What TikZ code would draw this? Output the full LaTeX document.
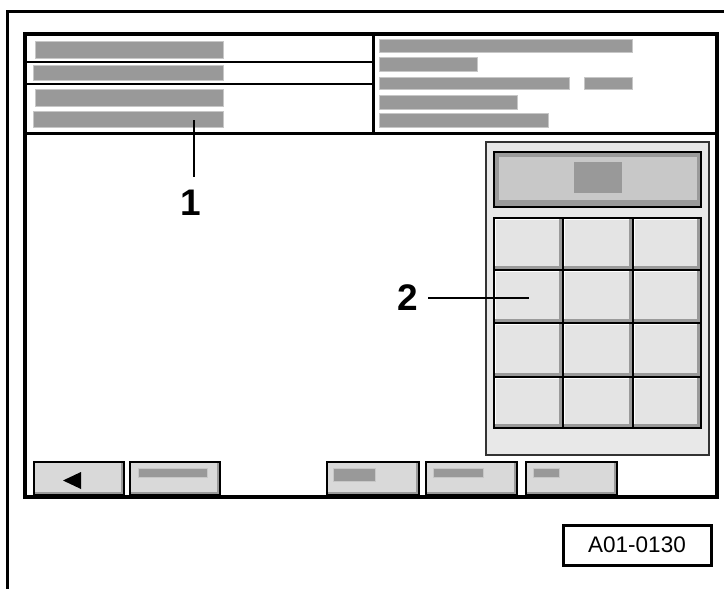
\documentclass[tikz,border=0pt]{standalone}
\usepackage{fontspec}
\setmainfont{Liberation Sans}
\definecolor{barc}{HTML}{999999}
\definecolor{keyc}{HTML}{E4E4E4}
\definecolor{panelc}{HTML}{E8E8E8}
\definecolor{dispc}{HTML}{C8C8C8}
\definecolor{btnc}{HTML}{D9D9D9}
\definecolor{shadc}{HTML}{9A9A9A}
\begin{document}
\begin{tikzpicture}[x=1pt,y=-1pt,line join=miter,
  frameline/.style={line width=3pt},
  scr/.style={draw=black,line width=3.4pt},
  hdrline/.style={line width=2pt},
  bar/.style={fill=barc,draw=barc!55!white,line width=0.6pt},
  btnbox/.style={fill=btnc,draw=black,line width=1.5pt},
  lbl/.style={font=\fontsize{37}{37}\selectfont\bfseries,inner sep=0pt},
  leader/.style={line width=1.2pt},
  codebox/.style={draw=black,line width=3pt,minimum width=148pt,minimum height=40pt,inner sep=0pt,font=\fontsize{22.5}{22.5}\selectfont}]
\useasboundingbox (0,0) rectangle (724,589);
% outer frame (top and left edges)
\draw[frameline] (7,589) -- (7,11) -- (724,11);
% header left bars
\draw[bar] (35,41) rectangle (223,58);
\draw[bar] (33,65) rectangle (223,80);
\draw[bar] (35,89) rectangle (223,106);
\draw[bar] (33,111) rectangle (223,127);
% header right bars
\draw[bar] (379,39) rectangle (632,52);
\draw[bar] (379,57) rectangle (477,71);
\draw[bar] (379,77) rectangle (569,89);
\draw[bar] (584,77) rectangle (632,89);
\draw[bar] (379,95) rectangle (517,109);
\draw[bar] (379,113) rectangle (548,127);
% header lines
\draw[hdrline] (25,62) -- (373,62);
\draw[hdrline] (25,84) -- (373,84);
\draw[line width=3pt] (373,34) -- (373,133);
\draw[line width=3pt] (25,133) -- (717,133);
% keypad panel
\draw[fill=panelc,draw=black!80,line width=1.3pt] (486,142) rectangle (709,455);
% display
\draw[fill=shadc,draw=black,line width=2pt] (494,152) rectangle (701,207);
\fill[dispc] (499,157) rectangle (697,200);
\fill[barc] (574,162) rectangle (622,193);
% keys
\foreach \xa/\xb in {494/563,563/633,633/701}{
  \foreach \ya/\yb in {218/270,270/323,323/377,377/428}{
    \fill[shadc] (\xa,\ya) rectangle (\xb,\yb);
    \fill[keyc] (\xa+1.5,\ya+1.5) rectangle (\xb-4,\yb-4.5);
    \draw[white,line width=1pt] (\xa+1.5,\yb-4.5) -- (\xa+1.5,\ya+1.5) -- (\xb-4,\ya+1.5);
  }
}
\draw[line width=1.6pt] (494,218) rectangle (701,428);
\foreach \xx in {563,633} \draw[line width=1.6pt] (\xx,218) -- (\xx,428);
\foreach \yy in {270,323,377} \draw[line width=1.6pt] (494,\yy) -- (701,\yy);
% bottom buttons
\foreach \xa/\xb in {34/124,130/220,327/419,426/517,526/617}{
  \draw[btnbox] (\xa,462) rectangle (\xb,495);
  \fill[shadc] (\xa+0.75,491.5) rectangle (\xb-0.75,494.25);
  \fill[shadc] (\xb-3.5,463) rectangle (\xb-0.75,494.25);
}
\fill[black] (63,480.5) -- (81,472) -- (81,489) -- cycle;
\draw[bar] (138,468) rectangle (207,477);
\draw[bar] (333,468) rectangle (375,481);
\draw[bar] (433,468) rectangle (483,477);
\draw[bar] (533,468) rectangle (559,477);
% screen border
\draw[scr] (25,34) rectangle (717,497);
% callouts
\node[lbl] (l1) at (191,203) {1};
\coordinate (t1) at (194,120);
\coordinate (e1) at ([yshift=13pt]l1.north);
\draw[leader] (t1) -- (t1 |- e1);
\node[lbl] (l2) at (408,298) {2};
\coordinate (t2) at (529,298);
\draw[leader] ([xshift=10pt]l2.east) -- (t2);
% figure code
\node[codebox] (code) at (637,545) {A01-0130};
\end{tikzpicture}
\end{document}
